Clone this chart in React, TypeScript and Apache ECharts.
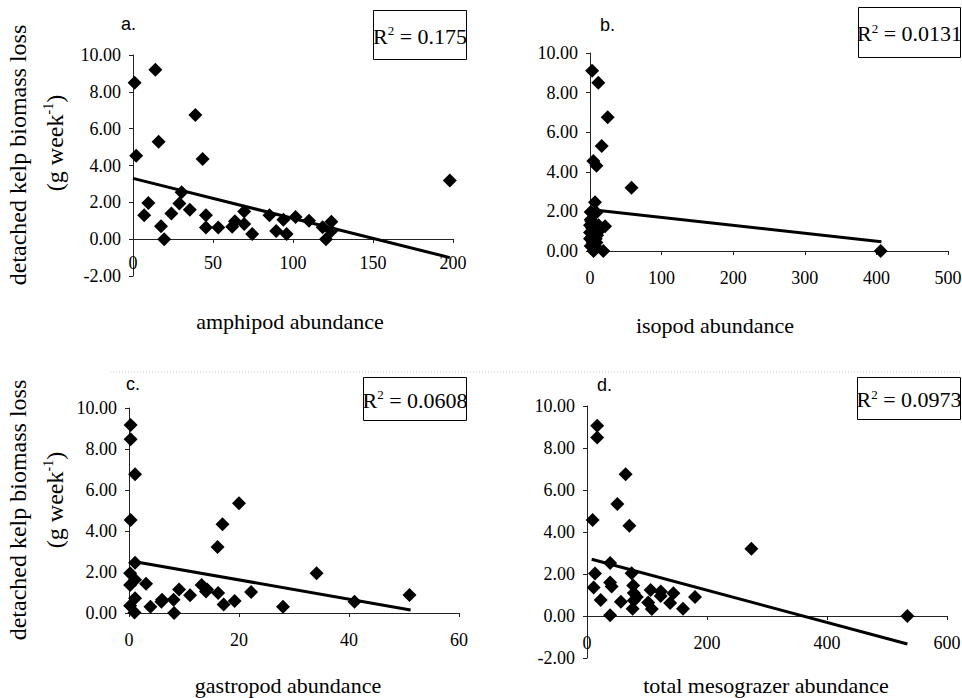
import React, { useEffect, useRef } from "react";
import * as echarts from "echarts";

// ---- data ----
const yTicksLabel = (v: number) => v.toFixed(2);

const amphipodPts: number[][] = [
  [1, 8.5], [14, 9.2], [2, 4.53], [16, 5.29], [39, 6.74], [43.5, 4.35], [198, 3.19],
  [9.6, 1.97], [7, 1.3], [17.5, 0.7], [19.5, 0], [24, 1.4], [29, 1.94], [30.4, 2.55],
  [35.5, 1.6], [45.6, 1.3], [45.6, 0.63], [53.3, 0.63], [62, 0.67], [63.7, 0.97],
  [69.5, 1.5], [69.5, 0.83], [74.5, 0.28], [85.3, 1.3], [89.5, 0.45], [94, 1.05],
  [96, 0.28], [101.6, 1.2], [110, 1.0], [118.5, 0.65], [120.6, 0], [124, 0.95], [124, 0.45],
];
const amphipodTrend: number[][] = [[0, 3.3], [198, -1.0]];

const isopodPts: number[][] = [
  [3, 9.1], [11.6, 8.5], [24.7, 6.75], [16.3, 5.3], [4.6, 4.55], [9, 4.3], [58, 3.2],
  [7, 2.46], [406, 0], [18.6, 0], [21, 1.25],
  [1, 1.97], [0, 1.3], [2, 0.7], [4, 1.4], [9, 1.94], [1, 1.58], [6, 1.3], [0, 0.62],
  [3, 0.62], [8, 0.62], [5, 0.98], [2, 1.49], [10, 0.8], [1, 0.25], [12, 1.3], [4, 0.43],
  [13, 1.03], [7, 0.25], [3, 1.16], [11, 0.98], [6, 0.62], [5, 0], [0, 0.94], [9, 0.43],
];
const isopodTrend: number[][] = [[0, 2.1], [407, 0.47]];

const gastropodPts: number[][] = [
  [0.3, 9.17], [0.3, 8.47], [1.1, 6.77], [0.3, 4.54], [16.1, 3.22], [17, 4.33], [20, 5.35],
  [1.1, 2.45], [34.1, 1.94], [51, 0.88], [41, 0.55], [28, 0.31], [22.2, 1.02], [19.2, 0.58],
  [17.2, 0.41], [16.2, 0.97], [14.2, 1.15], [13.2, 1.37], [14, 1.05], [11.1, 0.86],
  [9.1, 1.15], [8.1, 0.65], [8.2, 0], [5.9, 0.55], [6, 0.65], [3.9, 0.31], [3.1, 1.43],
  [0.2, 1.94], [0.2, 1.37], [1.1, 1.62], [1.1, 0.72], [0.2, 0.35], [1.0, 0.03],
];
const gastropodTrend: number[][] = [[1.1, 2.5], [51.2, 0.15]];

const totalPts: number[][] = [
  [9.4, 4.57], [17, 8.5], [17, 9.06], [64.4, 6.75], [50.6, 5.33], [70.6, 4.3], [274, 3.2],
  [534, 0], [38.5, 2.52], [13.3, 2.02], [11, 1.36], [22.8, 0.76], [38.5, 0.03],
  [38.5, 1.6], [41, 1.4], [56.5, 0.68], [74.4, 2.03], [77, 1.45], [78, 1.1], [76, 0.35],
  [83, 0.9], [78, 0.74], [102, 0.64], [108, 0.33], [106, 1.24], [123, 1.17], [122.8, 0.95],
  [138.5, 0.62], [144, 1.08], [160, 0.35], [180, 0.9],
];
const totalTrend: number[][] = [[7.8, 2.7], [534, -1.33]];

const panelLetters = ["a.", "b.", "c.", "d."];
const r2Texts = ["0.175", "0.0131", "0.0608", "0.0973"];
const xTitles = ["amphipod abundance", "isopod abundance", "gastropod abundance", "total mesograzer abundance"];

const SERIF = "Liberation Serif";
const SANS = "Liberation Sans";

export default function App() {
  const ref = useRef<HTMLDivElement>(null);

  useEffect(() => {
    if (!ref.current) return;
    const chart = echarts.init(ref.current, undefined, { renderer: "svg" });

    const gridBoxes = [
      { left: 133, top: 55, width: 320, height: 221 },
      { left: 590, top: 53, width: 358, height: 198 },
      { left: 129, top: 408, width: 330, height: 205 },
      { left: 587, top: 406, width: 360, height: 252 },
    ];
    const grids = gridBoxes.map((g) => ({ ...g, containLabel: false, outerBoundsMode: "none" }));

    const xRanges = [
      { max: 200, interval: 50 },
      { max: 500, interval: 100 },
      { max: 60, interval: 20 },
      { max: 600, interval: 200 },
    ];
    const yMins = [-2, 0, 0, -2];
    const xLabelMargins = [15, 18, 18, 18];

    const xAxis = xRanges.map((r, i) => ({
      type: "value",
      gridIndex: i,
      min: 0,
      max: r.max,
      interval: r.interval,
      // x axis drawn at y = 0: shift it up from the grid bottom by the -2..0 band
      offset: yMins[i] < 0 ? -Math.round((gridBoxes[i].height * -yMins[i]) / (10 - yMins[i])) : 0,
      axisLine: { show: true, onZero: false, lineStyle: { color: "#222", width: 1 } },
      axisTick: { show: true, length: 4, lineStyle: { color: "#222" } },
      splitLine: { show: false },
      axisLabel: { color: "#000", fontFamily: SERIF, fontSize: 18, margin: xLabelMargins[i] },
    }));

    const yAxis = yMins.map((m, i) => ({
      type: "value",
      gridIndex: i,
      min: m,
      max: 10,
      interval: 2,
      axisLine: { show: true, onZero: false, lineStyle: { color: "#222", width: 1 } },
      axisTick: { show: true, length: 4, lineStyle: { color: "#222" } },
      splitLine: { show: false },
      axisLabel: { color: "#000", fontFamily: SERIF, fontSize: 18, margin: 12, formatter: yTicksLabel },
    }));

    const pts = [amphipodPts, isopodPts, gastropodPts, totalPts];
    const trends = [amphipodTrend, isopodTrend, gastropodTrend, totalTrend];

    const series: any[] = [];
    pts.forEach((p, i) => {
      series.push({
        type: "line",
        xAxisIndex: i,
        yAxisIndex: i,
        data: trends[i],
        showSymbol: false,
        symbol: "none",
        lineStyle: { color: "#000", width: 3 },
        z: 3,
      });
      series.push({
        type: "scatter",
        xAxisIndex: i,
        yAxisIndex: i,
        data: p,
        symbol: "diamond",
        symbolSize: 14,
        itemStyle: { color: "#000", opacity: 1 },
        z: 4,
      });
    });

    const boxes = [
      { x: 373, y: 10, w: 94, h: 50 },
      { x: 858, y: 7, w: 103, h: 51 },
      { x: 363, y: 377, w: 104, h: 44 },
      { x: 857, y: 377, w: 104, h: 43 },
    ];
    const letterPos = [
      [121, 24], [600, 25], [126, 384], [597, 385],
    ];
    const xTitlePos = [
      [290, 321], [715, 325], [288, 685], [766, 685],
    ];

    const graphic: any[] = [];
    graphic.push({
      type: "line",
      shape: { x1: 110, y1: 372, x2: 962, y2: 372 },
      style: { stroke: "#c8c8c8", lineWidth: 1, lineDash: [1, 2] },
      silent: true,
    });
    boxes.forEach((b, i) => {
      graphic.push({
        type: "rect",
        shape: { x: b.x + 0.5, y: b.y + 0.5, width: b.w - 1, height: b.h - 1 },
        style: { fill: "#fff", stroke: "#000", lineWidth: 1 },
        z: 10,
      });
      graphic.push({
        type: "text",
        x: b.x + b.w / 2,
        y: b.y + b.h / 2 + 1,
        z: 11,
        style: {
          text: `{r|R}{s|2}{r| = ${r2Texts[i]}}`,
          align: "center",
          verticalAlign: "middle",
          fill: "#000",
          rich: {
            r: { fontFamily: SERIF, fontSize: 22, lineHeight: 24, fill: "#000" },
            s: { fontFamily: SERIF, fontSize: 13, lineHeight: 24, verticalAlign: "top", fill: "#000" },
          },
        },
      });
    });
    panelLetters.forEach((t, i) => {
      graphic.push({
        type: "text",
        x: letterPos[i][0],
        y: letterPos[i][1],
        style: { text: t, fontFamily: SANS, fontSize: 18, fill: "#000", align: "left", verticalAlign: "middle" },
      });
    });
    xTitles.forEach((t, i) => {
      graphic.push({
        type: "text",
        x: xTitlePos[i][0],
        y: xTitlePos[i][1],
        style: { text: t, fontFamily: SERIF, fontSize: 22, fill: "#000", align: "center", verticalAlign: "middle" },
      });
    });
    const yTitleCenters = [
      { l1: [18, 155], l2: [55, 143] },
      { l1: [18, 510], l2: [55, 500] },
    ];
    yTitleCenters.forEach((c) => {
      graphic.push({
        type: "text",
        x: c.l1[0],
        y: c.l1[1],
        rotation: Math.PI / 2,
        style: {
          text: "detached kelp biomass loss",
          fontFamily: SERIF,
          fontSize: 24,
          fill: "#000",
          align: "center",
          verticalAlign: "middle",
        },
      });
      graphic.push({
        type: "text",
        x: c.l2[0],
        y: c.l2[1],
        rotation: Math.PI / 2,
        style: {
          text: "{r|(g week}{s|-1}{r|)}",
          align: "center",
          verticalAlign: "middle",
          fill: "#000",
          rich: {
            r: { fontFamily: SERIF, fontSize: 24, lineHeight: 27, fill: "#000" },
            s: { fontFamily: SERIF, fontSize: 14, lineHeight: 27, verticalAlign: "top", fill: "#000" },
          },
        },
      });
    });

    chart.setOption({
      animation: false,
      backgroundColor: "#fff",
      grid: grids,
      xAxis,
      yAxis,
      series,
      graphic,
    } as any);

    return () => chart.dispose();
  }, []);

  return (
    <div
      ref={ref}
      style={{ position: "fixed", left: 0, top: 0, width: 962, height: 698, background: "#fff" }}
    />
  );
}
